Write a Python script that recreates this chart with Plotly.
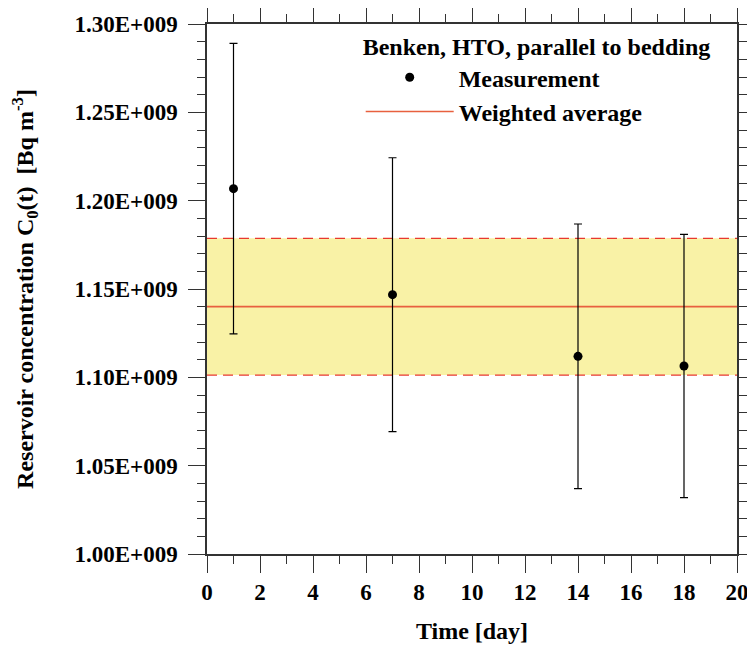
import plotly.graph_objects as go

# ---- data ----
time_days = [1, 7, 14, 18]
conc = [1.2068e9, 1.1468e9, 1.1119e9, 1.1064e9]
conc_err = [0.0822e9, 0.0775e9, 0.0749e9, 0.0745e9]

avg_x = [0, 20]
weighted_avg = 1.1400e9
band_low = 1.1013e9
band_high = 1.1787e9

y_tickvals = [1.00e9, 1.05e9, 1.10e9, 1.15e9, 1.20e9, 1.25e9, 1.30e9]
y_ticktext = ["1.00E+009", "1.05E+009", "1.10E+009", "1.15E+009",
              "1.20E+009", "1.25E+009", "1.30E+009"]
x_tickvals = [0, 2, 4, 6, 8, 10, 12, 14, 16, 18, 20]

FONT = "Liberation Serif"
RED = "#E8382E"
AVG = "#E8603F"
BAND = "#F9F2A6"

fig = go.Figure()

# confidence band fill
fig.add_trace(go.Scatter(x=avg_x, y=[band_low] * 2, mode="lines",
                         line=dict(width=0), showlegend=False, hoverinfo="skip"))
fig.add_trace(go.Scatter(x=avg_x, y=[band_high] * 2, mode="lines",
                         line=dict(width=0), fill="tonexty", fillcolor=BAND,
                         showlegend=False, hoverinfo="skip"))
# dashed band edges
for yv in (band_low, band_high):
    fig.add_trace(go.Scatter(x=avg_x, y=[yv] * 2, mode="lines",
                             line=dict(color=RED, width=1.3, dash="10px,6px"),
                             showlegend=False, hoverinfo="skip"))

fig.add_trace(go.Scatter(x=avg_x, y=[weighted_avg] * 2, mode="lines",
                         line=dict(color=AVG, width=1.6),
                         name="Weighted average"))

fig.add_trace(go.Scatter(x=time_days, y=conc, mode="markers",
                         marker=dict(color="black", size=9),
                         error_y=dict(type="data", array=conc_err, visible=True,
                                      color="black", thickness=1.2, width=4),
                         name="Measurement"))

tickfont = dict(family=FONT, size=23, color="black", weight=700)
titlefont = dict(family=FONT, size=24, color="black", weight=700)
axis_common = dict(
    showgrid=False, zeroline=False, automargin=False,
    showline=True, linecolor="#333", linewidth=1.5,
    mirror="allticks", ticks="outside", ticklen=17, tickwidth=1.3,
    tickcolor="#333", tickfont=tickfont,
)

fig.update_xaxes(
    range=[0, 20], tickvals=x_tickvals,
    minor=dict(dtick=1, ticks="outside", ticklen=8, tickwidth=1.2, tickcolor="#333",
               showgrid=False),
    title=dict(text="Time [day]", font=titlefont, standoff=18),
    **axis_common)

fig.update_yaxes(
    range=[1.0e9, 1.3e9], tickvals=y_tickvals, ticktext=y_ticktext,
    minor=dict(dtick=0.01e9, ticks="outside", ticklen=8, tickwidth=1.2, tickcolor="#333",
               showgrid=False),
    ticklabelstandoff=6,
    title=dict(text="Reservoir concentration C<sub>0</sub>(t)  [Bq m<sup>-3</sup>]",
               font=titlefont, standoff=42),
    **axis_common)

# page body adds an 8px offset, so the figure is 8px smaller and shifted margins
fig.update_layout(
    width=747, height=639,
    margin=dict(l=199, r=18, t=16, b=93),
    paper_bgcolor="white", plot_bgcolor="white",
    legend=dict(
        x=0.29, y=1.0, xanchor="left", yanchor="top",
        bgcolor="rgba(0,0,0,0)",
        title=dict(text="Benken, HTO, parallel to bedding", font=titlefont),
        font=titlefont,
        traceorder="reversed", itemwidth=88,
        tracegroupgap=0,
    ),
)

fig.write_html("out.html")
